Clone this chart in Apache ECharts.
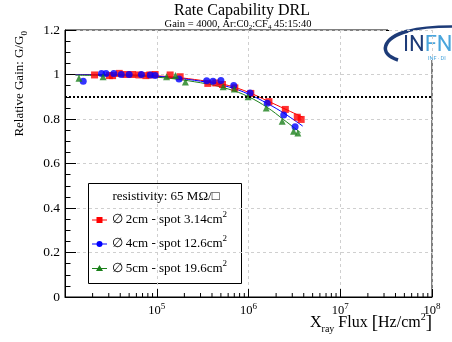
<!DOCTYPE html>
<html><head><meta charset="utf-8">
<script src="https://cdn.jsdelivr.net/npm/echarts@6/dist/echarts.min.js"></script>
<style>html,body{margin:0;padding:0;background:#fff}#c{width:452px;height:342px}</style>
</head><body><div id="c"></div>
<script>
// ---- data ----
const redFlux  = [2.1e4, 3.05e4, 3.3e4, 3.9e4, 4.6e4, 5.45e4, 6.4e4, 7.6e4, 8.4e4, 9.6e4, 1.4e5, 1.8e5, 3.6e5, 4.4e5, 5.2e5, 7.1e5, 1.06e6, 1.67e6, 2.52e6, 3.4e6, 3.75e6];
const redGain  = [0.998, 0.995, 0.995, 1.005, 1.0, 1.0, 0.998, 0.995, 0.998, 1.0, 0.998, 0.99, 0.96, 0.962, 0.955, 0.94, 0.915, 0.878, 0.843, 0.808, 0.798];
const blueFlux = [1.58e4, 2.5e4, 2.8e4, 3.4e4, 4.1e4, 5.0e4, 6.8e4, 8.5e4, 9.6e4, 1.75e5, 3.5e5, 4.1e5, 5.0e5, 6.9e5, 1.04e6, 1.6e6, 2.42e6, 3.22e6];
const blueGain = [0.97, 1.005, 1.005, 1.005, 1.0, 1.0, 1.0, 0.998, 0.996, 0.98, 0.972, 0.97, 0.973, 0.951, 0.917, 0.871, 0.818, 0.765];
const greenFlux = [1.42e4, 2.6e4, 1.28e5, 1.6e5, 2.05e5, 5.3e5, 7.0e5, 9.9e5, 1.56e6, 2.33e6, 3.1e6, 3.45e6];
const greenGain = [0.983, 0.99, 0.99, 0.995, 0.966, 0.945, 0.935, 0.9, 0.85, 0.79, 0.745, 0.737];

const redFitFlux   = [1.3e4, 3e4, 1e5, 3e5, 6e5, 1e6, 1.6e6, 2.5e6, 3.9e6];
const redFitGain   = [1.0, 0.999, 0.994, 0.974, 0.951, 0.92, 0.882, 0.845, 0.808];
const blueFitFlux  = [1.3e4, 3e4, 1e5, 3e5, 6e5, 1e6, 1.6e6, 2.5e6, 3.9e6];
const blueFitGain  = [0.999, 0.998, 0.992, 0.97, 0.945, 0.912, 0.87, 0.823, 0.768];
const greenFitFlux = [1.3e4, 3e4, 1e5, 3e5, 6e5, 1e6, 1.6e6, 2.4e6, 3.7e6];
const greenFitGain = [0.997, 0.995, 0.988, 0.963, 0.935, 0.9, 0.852, 0.798, 0.738];

const threshold = 0.9;
const seriesNames = ['\u2205 2cm - spot 3.14cm', '\u2205 4cm - spot 12.6cm', '\u2205 5cm - spot 19.6cm'];
const legendHeader = 'resistivity: 65 M\u03A9/\u25A1';
const titleText = 'Rate Capability DRL';
const xDecades = [1e4, 1e5, 1e6, 1e7];
const minorMult = [2, 3, 4, 5, 6, 7, 8, 9];

// ---- build ----
const zip = (a, b) => a.map((v, i) => [v, b[i]]);
const minorTicks = [];
xDecades.forEach(d => minorMult.forEach(m => minorTicks.push([d * m, 0])));

const FONT = 'Liberation Serif';
const RED = '#ff0000', BLUE = '#0000ff', GREEN = '#1a801a';

const chart = echarts.init(document.getElementById('c'), null, {renderer: 'canvas'});

function legendRow(y, color, shape, label) {
  const els = [
    {type: 'line', shape: {x1: 92, y1: y, x2: 107, y2: y}, style: {stroke: color, lineWidth: 1}}
  ];
  if (shape === 'rect') els.push({type: 'rect', shape: {x: 96.5, y: y - 3, width: 6, height: 6}, style: {fill: color}});
  if (shape === 'circle') els.push({type: 'circle', shape: {cx: 99.5, cy: y, r: 3}, style: {fill: color}});
  if (shape === 'tri') els.push({type: 'polygon', shape: {points: [[99.5, y - 3.5], [103, y + 2.5], [96, y + 2.5]]}, style: {fill: color}});
  els.push({type: 'text', x: 111.5, y: y, style: {
    text: '{b|' + label + '}{s|2}', textVerticalAlign: 'middle', textAlign: 'left',
    rich: {b: {fontFamily: FONT, fontSize: 13, lineHeight: 19, verticalAlign: 'middle', fill: '#000'},
           s: {fontFamily: FONT, fontSize: 9, lineHeight: 11, verticalAlign: 'top', fill: '#000'}}
  }});
  return els;
}

const option = {
  animation: false,
  backgroundColor: '#fff',
  grid: {left: 65, right: 20, top: 30, bottom: 45, show: true, borderColor: '#000', borderWidth: 1, backgroundColor: 'transparent'},
  xAxis: {
    type: 'log', logBase: 10, min: 1e4, max: 1e8,
    axisLine: {show: true, lineStyle: {color: '#000', width: 1}},
    axisTick: {show: true, inside: true, length: 8, lineStyle: {color: '#000'}},
    axisLabel: {
      margin: 5,
      formatter: v => (v <= 1e4 * 1.001 ? '' : '{b|10}{s|' + Math.round(Math.log10(v)) + '}'),
      rich: {b: {fontFamily: FONT, fontSize: 12.5, lineHeight: 18, verticalAlign: 'middle', color: '#000'},
             s: {fontFamily: FONT, fontSize: 9, lineHeight: 10, verticalAlign: 'top', color: '#000'}}
    },
    splitLine: {show: true, lineStyle: {color: '#cfcfcf', type: [3, 3], width: 1}}
  },
  yAxis: {
    type: 'value', min: 0, max: 1.2, interval: 0.2,
    axisLine: {show: true, lineStyle: {color: '#000', width: 1}},
    axisTick: {show: true, inside: true, length: 11, lineStyle: {color: '#000'}},
    minorTick: {show: true, splitNumber: 4, length: 5.5, lineStyle: {color: '#000'}},
    axisLabel: {margin: 5, fontFamily: FONT, fontSize: 13.5, color: '#000',
      formatter: v => String(Math.round(v * 10) / 10)},
    splitLine: {show: true, lineStyle: {color: '#cfcfcf', type: [3, 3], width: 1}}
  },
  series: [
    {type: 'line', data: zip(redFitFlux, redFitGain), smooth: 0.4, showSymbol: false, lineStyle: {color: RED, width: 1}, z: 3, silent: true},
    {type: 'line', data: zip(blueFitFlux, blueFitGain), smooth: 0.4, showSymbol: false, lineStyle: {color: BLUE, width: 1}, z: 3, silent: true},
    {type: 'line', data: zip(greenFitFlux, greenFitGain), smooth: 0.4, showSymbol: false, lineStyle: {color: GREEN, width: 1}, z: 3, silent: true},
    {name: seriesNames[0], type: 'scatter', data: zip(redFlux, redGain), symbol: 'rect', symbolSize: 7, itemStyle: {color: RED}, z: 4,
      markLine: {silent: true, symbol: 'none', label: {show: false}, lineStyle: {color: '#000', type: [2, 2], width: 2},
        data: [{yAxis: threshold}]}},
    {name: seriesNames[1], type: 'scatter', data: zip(blueFlux, blueGain), symbol: 'circle', symbolSize: 7, itemStyle: {color: BLUE}, z: 4},
    {name: seriesNames[2], type: 'scatter', data: zip(greenFlux, greenGain), symbol: 'triangle', symbolSize: 7, itemStyle: {color: GREEN}, z: 4},
    {type: 'custom', data: minorTicks, silent: true, clip: false, z: 5,
      renderItem: (params, api) => {
        const p = api.coord([api.value(0), 0]);
        return {type: 'line', shape: {x1: p[0], y1: p[1], x2: p[0], y2: p[1] - 4}, style: {stroke: '#000', lineWidth: 1}};
      }}
  ],
  graphic: [
    {type: 'text', x: 242, y: 11, style: {text: titleText, fontFamily: FONT, fontSize: 16, fill: '#000', textAlign: 'center', textVerticalAlign: 'middle'}},
    {type: 'text', x: 238, y: 24.5, style: {
      text: '{a|Gain = 4000, Ar:C0}{d|2}{a|:CF}{d|4}{a| 45:15:40}', textAlign: 'center', textVerticalAlign: 'middle',
      rich: {a: {fontFamily: FONT, fontSize: 10.5, lineHeight: 13, verticalAlign: 'middle', fill: '#000'},
             d: {fontFamily: FONT, fontSize: 7, lineHeight: 8, verticalAlign: 'bottom', fill: '#000'}}}},
    {type: 'text', x: 20, y: 31, rotation: Math.PI / 2, style: {
      text: '{a|Relative Gain: G/G}{d|0}', textAlign: 'right', textVerticalAlign: 'middle',
      rich: {a: {fontFamily: FONT, fontSize: 13, lineHeight: 18, verticalAlign: 'middle', fill: '#000'},
             d: {fontFamily: FONT, fontSize: 9, lineHeight: 10, verticalAlign: 'bottom', fill: '#000'}}}},
    {type: 'text', x: 432, y: 323, style: {
      text: '{a|X}{d|ray}{a| Flux }{b|[}{a|Hz/cm}{s|2}{b|]}', textAlign: 'right', textVerticalAlign: 'middle',
      rich: {a: {fontFamily: FONT, fontSize: 16, lineHeight: 22, verticalAlign: 'middle', fill: '#000'},
             b: {fontFamily: FONT, fontSize: 19, lineHeight: 22, verticalAlign: 'middle', fill: '#000'},
             d: {fontFamily: FONT, fontSize: 10, lineHeight: 15, verticalAlign: 'bottom', fill: '#000'},
             s: {fontFamily: FONT, fontSize: 10, lineHeight: 14, verticalAlign: 'top', fill: '#000'}}}},
    {type: 'group', z: 100, children: [
      {type: 'rect', shape: {x: 88.5, y: 183.5, width: 153, height: 100}, style: {fill: '#fff', stroke: '#000', lineWidth: 1}},
      {type: 'text', x: 166, y: 197, style: {text: legendHeader, fontFamily: FONT, fontSize: 13, fill: '#000', textAlign: 'center', textVerticalAlign: 'middle'}},
      ...legendRow(220, RED, 'rect', seriesNames[0]),
      ...legendRow(244, BLUE, 'circle', seriesNames[1]),
      ...legendRow(268.5, GREEN, 'tri', seriesNames[2])
    ]},
    {type: 'group', z: 100, children: [
      {type: 'rect', shape: {x: 388, y: 26, width: 64, height: 34}, style: {fill: '#fff'}},
      {type: 'line', shape: {x1: 385, y1: 30.5, x2: 390, y2: 30.5}, style: {stroke: '#000', lineWidth: 1}},
      {type: 'bezierCurve', shape: {x1: 398, y1: 60, cpx1: 378, cpy1: 54, cpx2: 382, cpy2: 38, x2: 408, y2: 31}, style: {fill: 'none', stroke: '#1d3b78', lineWidth: 3.5}},
      {type: 'bezierCurve', shape: {x1: 408, y1: 31, cpx1: 420, cpy1: 27.5, cpx2: 436, cpy2: 26.5, x2: 452, y2: 26.5}, style: {fill: 'none', stroke: '#1d3b78', lineWidth: 2.5}},
      {type: 'text', x: 403, y: 45, style: {text: '{n|IN}{f|FN}', textVerticalAlign: 'middle',
        rich: {n: {fontFamily: 'Roboto', fontSize: 22, fill: '#1d3b78'}, f: {fontFamily: 'Roboto', fontSize: 22, fill: '#4aa5dc'}}}},
      {type: 'text', x: 428, y: 59, style: {text: 'INF \u00B7 DI', fontFamily: 'Roboto', fontSize: 5.5, fill: '#4aa5dc', textVerticalAlign: 'middle'}}
    ]}
  ]
};
chart.setOption(option);
</script></body></html>
